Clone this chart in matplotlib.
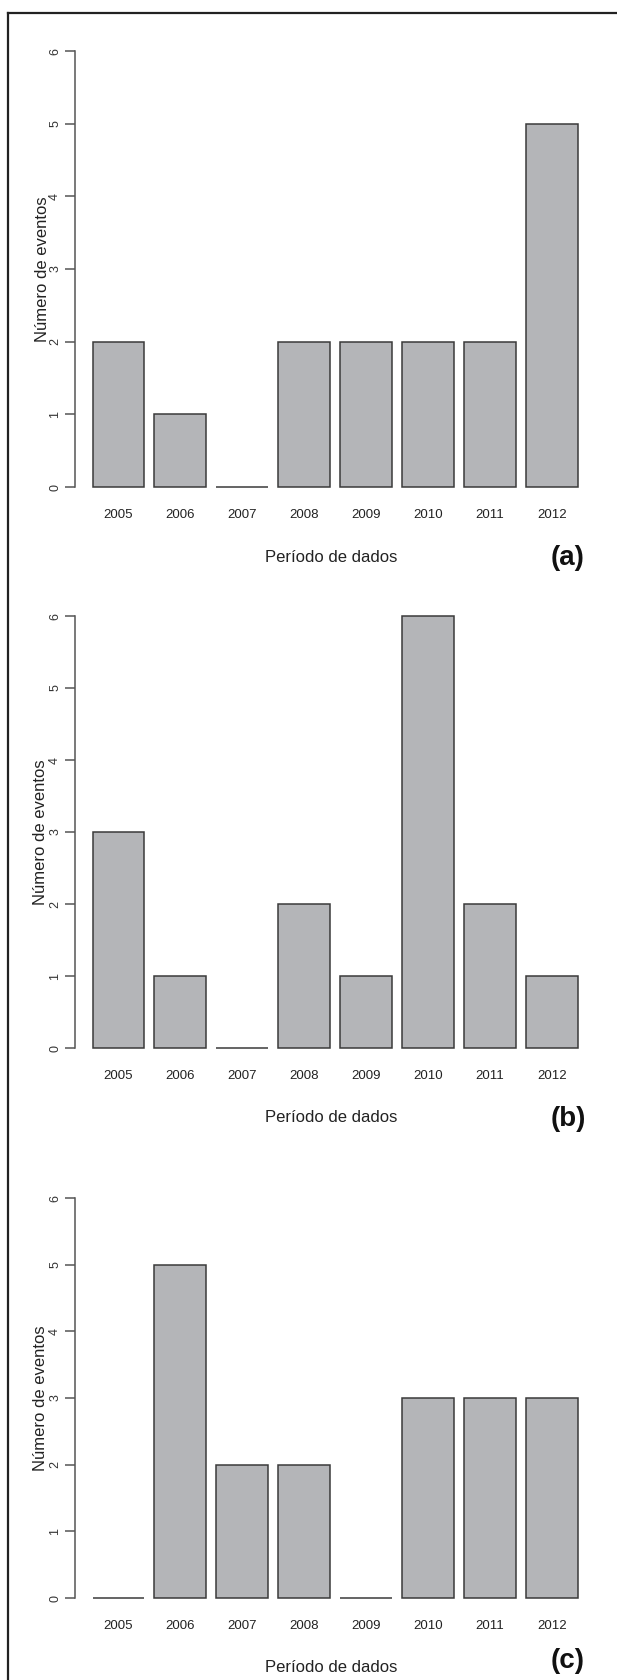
import numpy as np
import matplotlib
matplotlib.use("Agg")
import matplotlib.pyplot as plt
from matplotlib.lines import Line2D

plt.rcParams['font.family'] = ['Liberation Sans', 'DejaVu Sans']

# dados
anos = ['2005', '2006', '2007', '2008', '2009', '2010', '2011', '2012']
eventos_a = [2, 1, 0, 2, 2, 2, 2, 5]
eventos_b = [3, 1, 0, 2, 1, 6, 2, 1]
eventos_c = [0, 5, 2, 2, 0, 3, 3, 3]
paineis = ['(a)', '(b)', '(c)']
y_ticks = [0, 1, 2, 3, 4, 5, 6]

W, H = 617, 1680
fig = plt.figure(figsize=(W / 100, H / 100), dpi=100)

# moldura (so esquerda e topo aparecem)
fig.add_artist(Line2D([8 / W, 8 / W], [0, 1 - 13 / H], color='#222222', lw=1.6))
fig.add_artist(Line2D([8 / W, 1], [1 - 13 / H, 1 - 13 / H], color='#222222', lw=1.6))

# posicao de cada painel em pixels: y do 6, y do 0, x do titulo do eixo y, y da letra
pos = [(51, 487, 43, 558), (616, 1048, 41, 1119), (1198, 1598, 41, 1661)]
x_left, x_right = 75, 597

cor_barra = '#b4b5b8'
cor_borda = '#3a3a3a'
cor_eixo = '#555555'

for dados, nome, (y6, y0, xl, yl) in zip([eventos_a, eventos_b, eventos_c], paineis, pos):
    ax = fig.add_axes([x_left / W, 1 - y0 / H, (x_right - x_left) / W, (y0 - y6) / H])
    x = 0.7 + 1.2 * np.arange(len(anos))
    ax.bar(x, dados, width=1, color=cor_barra, edgecolor=cor_borda, linewidth=1.1, clip_on=False)
    ax.set_xlim(-0.14, 9.976)
    ax.set_ylim(0, 6)
    for s in ['top', 'right', 'bottom']:
        ax.spines[s].set_visible(False)
    ax.spines['left'].set_bounds(0, 6)
    ax.spines['left'].set_color(cor_eixo)
    ax.spines['left'].set_linewidth(1.1)
    ax.set_yticks(y_ticks)
    ax.set_yticklabels([str(t) for t in y_ticks], rotation=90, va='center', fontsize=9, color='#333333')
    ax.tick_params(axis='y', direction='out', length=7, width=1.1, color=cor_eixo, pad=3)
    ax.set_xticks(x)
    ax.set_xticklabels(anos, fontsize=9.5, color='#222222')
    ax.tick_params(axis='x', length=0, pad=16)
    ax.patch.set_alpha(0)

    fig.text(xl / W, 1 - (y6 + y0) / 2 / H, 'Número de eventos', rotation=90,
             ha='center', va='center', fontsize=12, color='#222222')
    fig.text(331 / W, 1 - (y0 + 70) / H, 'Período de dados', ha='center', va='center',
             fontsize=12, color='#222222')
    fig.text(568 / W, 1 - yl / H, nome, ha='center', va='center',
             fontsize=20, fontweight='bold', color='#111111')

fig.savefig('out.png', dpi=100)
